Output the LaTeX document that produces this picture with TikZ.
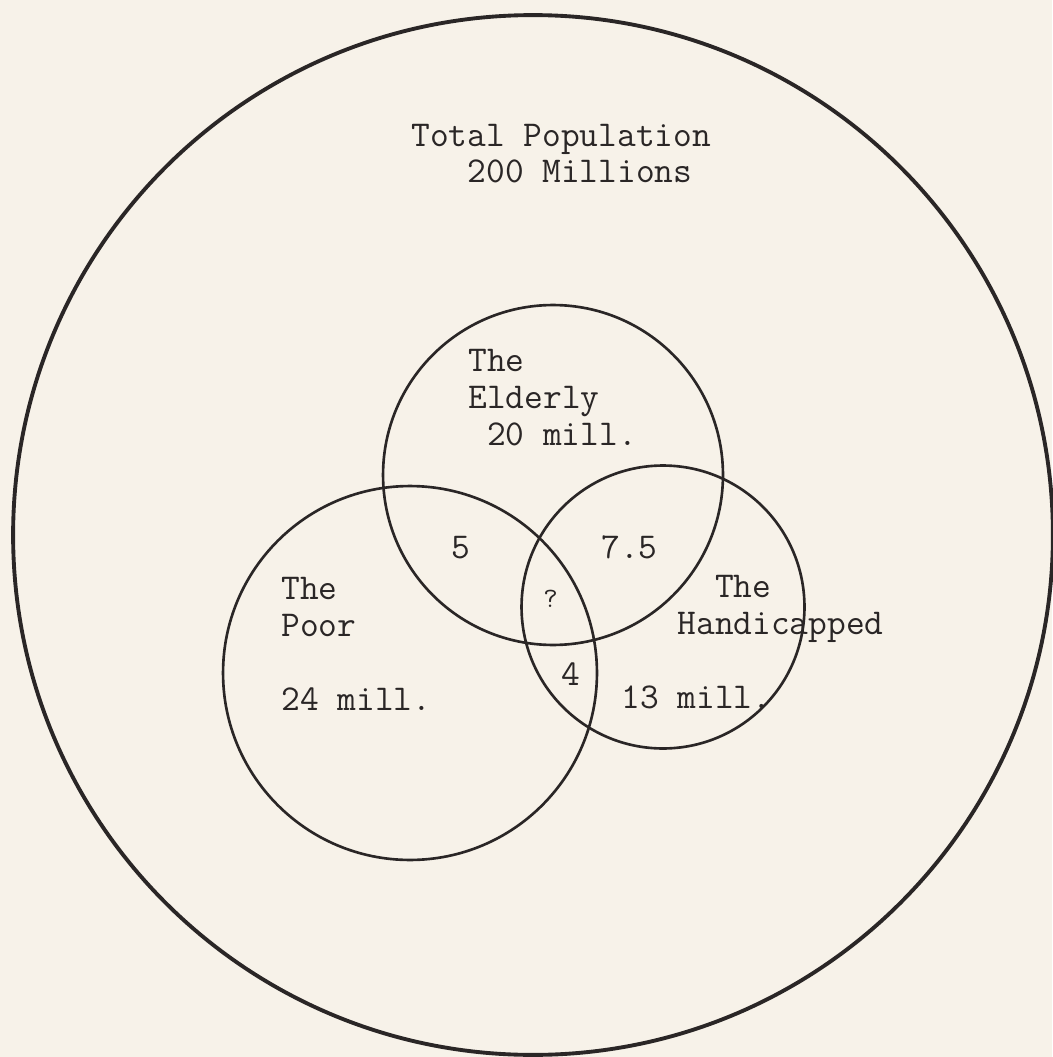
\documentclass[tikz,border=0pt]{standalone}
\usepackage{xcolor}
\usepackage{tikz}
\definecolor{paper}{RGB}{247,242,233}
\definecolor{ink}{RGB}{42,38,38}

\begin{document}
\begin{tikzpicture}[x=0.02cm,y=-0.02cm,
  ring/.style={draw=ink,circle,line width=1.5pt,inner sep=0pt},
  lbl/.style={anchor=base west,inner sep=0pt,align=left,text=ink,
              font=\ttfamily\fontsize{20.7}{21}\selectfont}]
  \fill[paper] (0,0) rectangle (1052,1057);
  \useasboundingbox (0,0) rectangle (1052,1057);
  % the sets
  \node[ring,line width=2.2pt,minimum size=20.8cm] (total) at (533,535) {};
  \node[ring,minimum size=6.8cm]  (elderly) at (553,475) {};
  \node[ring,minimum size=7.48cm] (poor) at (410,673) {};
  \node[ring,minimum size=5.66cm] (handicapped) at (663,607) {};
  % labels (anchored at the last line)
  \node[lbl] (totaltxt) at (411,183) {Total Population\\\phantom{xxx}200 Millions};
  \node[lbl] (eldtxt) at (468,445) {The\\Elderly\\\phantom{x}20 mill.};
  \node[lbl] (poortxt) at (281,710) {The\\Poor\\\mbox{}\\24 mill.};
  \node[lbl] (handtxt) at (621,708) {\phantom{xxxxx}The\\\phantom{xxx}Handicapped\\\mbox{}\\13 mill.};
  % overlaps
  \node[lbl] (five) at (451,558) {5};
  \node[lbl] (sevenfive) at (601,558) {7.5};
  \node[lbl,font=\ttfamily\fontsize{16}{16}\selectfont] (unknown) at (543,607) {?};
  \node[lbl] (four) at (561,685) {4};
\end{tikzpicture}
\end{document}
